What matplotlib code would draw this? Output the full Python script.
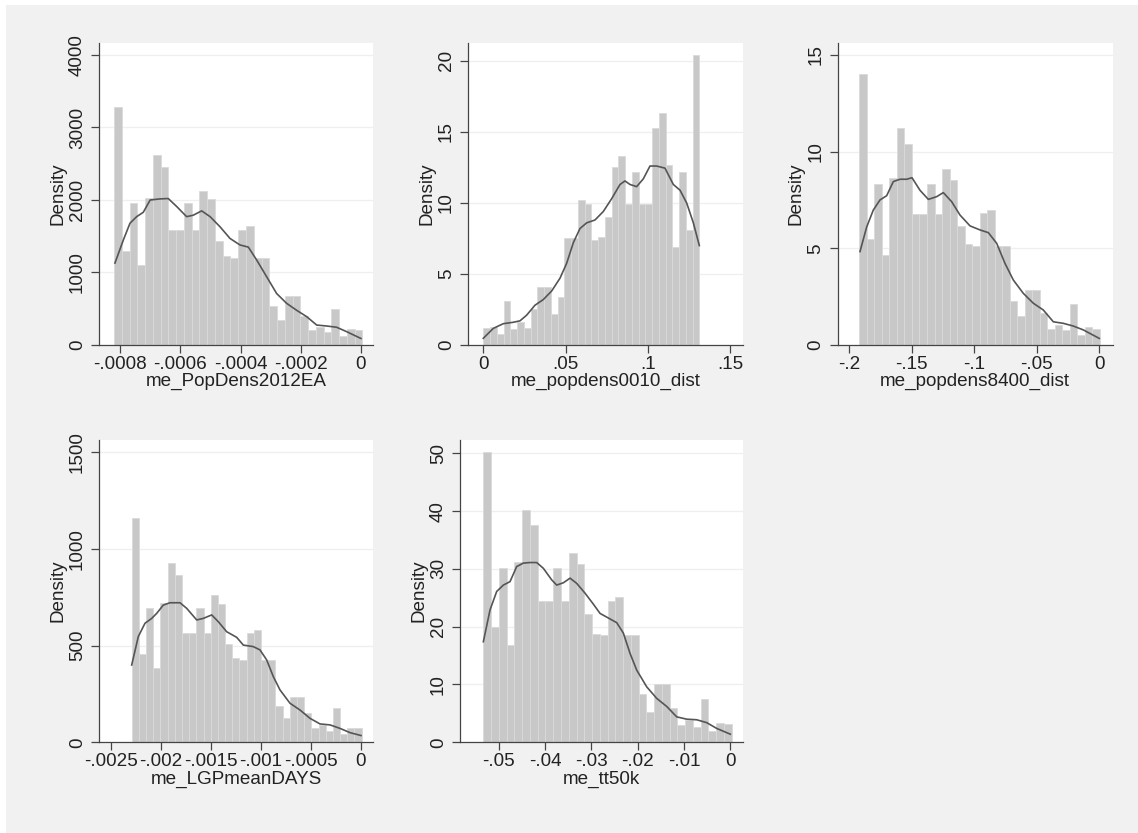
import numpy as np
import matplotlib.pyplot as plt
from matplotlib.patches import Rectangle
from matplotlib.ticker import FixedLocator, FixedFormatter

plt.rcParams['font.family'] = ['Liberation Sans', 'DejaVu Sans']

# ---------------- data ----------------
# Panel 1: me_PopDens2012EA
p1_name = "me_PopDens2012EA"
p1_bin_range = (-0.00082, 0.000005)
p1_density = [3280, 1300, 1960, 1100, 2030, 2620, 2450, 1590, 1590, 1960, 1590, 2130,
              2010, 1440, 1230, 1200, 1590, 1640, 1200, 1200, 540, 350, 670, 670,
              400, 200, 250, 180, 490, 120, 220, 200]
p1_kde_x = [-0.000817, -0.000789, -0.000767, -0.000745, -0.000723, -0.0007, -0.000667,
            -0.00064, -0.000612, -0.000579, -0.000557, -0.000529, -0.000501, -0.000468,
            -0.000435, -0.000402, -0.000374, -0.000346, -0.000313, -0.00028, -0.000247,
            -0.000214, -0.00018, -0.000147, -0.000114, -0.000081, -0.000048, 0.0]
p1_kde_y = [1130, 1450, 1680, 1770, 1830, 2000, 2015, 2020, 1910, 1770, 1790, 1850,
            1770, 1630, 1470, 1380, 1350, 1170, 940, 710, 575, 480, 390, 275, 262,
            245, 185, 90]
p1_xticks = [-0.0008, -0.0006, -0.0004, -0.0002, 0]
p1_xticklabels = ["-.0008", "-.0006", "-.0004", "-.0002", "0"]
p1_yticks = [0, 1000, 2000, 3000, 4000]
p1_yticklabels = ["0", "1000", "2000", "3000", "4000"]

# Panel 2: me_popdens0010_dist
p2_name = "me_popdens0010_dist"
p2_bin_range = (0.0, 0.1312)
p2_density = [1.2, 1.3, 0.8, 3.1, 1.1, 1.6, 1.2, 2.5, 4.1, 4.1, 2.2, 3.4, 7.5, 7.5, 10.2,
              9.9, 7.4, 7.6, 9.0, 12.5, 13.3, 9.9, 12.2, 9.9, 9.9, 15.3, 16.3, 12.7,
              6.9, 12.2, 8.1, 20.4]
p2_kde_x = [0.0, 0.00607, 0.01215, 0.01822, 0.02227, 0.02632, 0.03138, 0.03644, 0.0415,
            0.04656, 0.05061, 0.05466, 0.05870, 0.06275, 0.06781, 0.07287, 0.07794,
            0.083, 0.08603, 0.08907, 0.09312, 0.09717, 0.10121, 0.10526, 0.11032,
            0.11538, 0.11943, 0.12348, 0.12753, 0.13117]
p2_kde_y = [0.47, 1.17, 1.5, 1.6, 1.7, 2.1, 2.8, 3.2, 3.8, 4.7, 5.75, 7.2, 8.2, 8.6, 8.8,
            9.4, 10.3, 11.3, 11.55, 11.3, 11.15, 11.7, 12.6, 12.6, 12.45, 11.3, 10.9,
            10.0, 8.6, 7.0]
p2_xticks = [0, 0.05, 0.1, 0.15]
p2_xticklabels = ["0", ".05", ".1", ".15"]
p2_yticks = [0, 5, 10, 15, 20]
p2_yticklabels = ["0", "5", "10", "15", "20"]

# Panel 3: me_popdens8400_dist
p3_name = "me_popdens8400_dist"
p3_bin_range = (-0.192, 0.0005)
p3_density = [14.0, 5.5, 8.35, 4.65, 8.65, 11.2, 10.4, 6.75, 6.75, 8.35, 6.75, 9.1,
              8.55, 6.15, 5.2, 5.1, 6.8, 7.0, 5.1, 5.1, 2.3, 1.5, 2.85, 2.85, 1.65,
              0.85, 1.05, 0.75, 2.1, 0.5, 0.95, 0.85]
p3_kde_x = [-0.19147, -0.18613, -0.1808, -0.17547, -0.17013, -0.1648, -0.15947, -0.15413,
            -0.14987, -0.14347, -0.1368, -0.13013, -0.1248, -0.11813, -0.11147,
            -0.10347, -0.09547, -0.0888, -0.08213, -0.07547, -0.0688, -0.0608, -0.0528,
            -0.04480, -0.0368, -0.0288, -0.0208, -0.0128, 0.0]
p3_kde_y = [4.83, 6.1, 6.98, 7.5, 7.72, 8.45, 8.57, 8.57, 8.65, 8.0, 7.53, 7.67, 7.88,
            7.41, 6.72, 6.16, 5.95, 5.81, 5.26, 4.22, 3.36, 2.67, 2.16, 1.81, 1.2, 1.12,
            0.98, 0.78, 0.34]
p3_xticks = [-0.2, -0.15, -0.1, -0.05, 0]
p3_xticklabels = ["-.2", "-.15", "-.1", "-.05", "0"]
p3_yticks = [0, 5, 10, 15]
p3_yticklabels = ["0", "5", "10", "15"]

# Panel 4: me_LGPmeanDAYS
p4_name = "me_LGPmeanDAYS"
p4_bin_range = (-0.002293, 0.0000067)
p4_density = [1160, 455, 695, 385, 720, 930, 865, 565, 565, 695, 565, 760, 715, 510,
              435, 425, 565, 580, 425, 425, 190, 125, 235, 235, 150, 75, 90, 60, 175,
              45, 75, 75]
p4_kde_x = [-0.002293, -0.002227, -0.00216, -0.002093, -0.002043, -0.001977, -0.00191,
            -0.00181, -0.001743, -0.001643, -0.001577, -0.001493, -0.001427, -0.001343,
            -0.001243, -0.001177, -0.001077, -0.00101, -0.000943, -0.000877, -0.00081,
            -0.00071, -0.00061, -0.00051, -0.00041, -0.00031, -0.00021, -0.00011, 0.0]
p4_kde_y = [400, 547, 616, 641, 667, 710, 722, 722, 693, 633, 641, 659, 624, 572, 543,
            503, 495, 478, 426, 340, 271, 202, 167, 124, 95, 90, 72, 50, 35]
p4_xticks = [-0.0025, -0.002, -0.0015, -0.001, -0.0005, 0]
p4_xticklabels = ["-.0025", "-.002", "-.0015", "-.001", "-.0005", "0"]
p4_yticks = [0, 500, 1000, 1500]
p4_yticklabels = ["0", "500", "1000", "1500"]

# Panel 5: me_tt50k
p5_name = "me_tt50k"
p5_bin_range = (-0.0533, 0.0003)
p5_density = [50.3, 19.9, 30.1, 16.9, 31.2, 40.2, 37.6, 24.5, 24.5, 30.1, 24.5, 32.7,
              30.9, 22.2, 18.8, 18.5, 24.5, 25.2, 18.5, 18.5, 8.3, 5.3, 10.0, 10.0, 5.9,
              3.0, 3.8, 2.7, 7.5, 1.9, 3.4, 3.2]
p5_kde_x = [-0.05331, -0.05187, -0.05043, -0.04899, -0.04755, -0.04612, -0.04468,
            -0.04324, -0.0418, -0.04036, -0.03856, -0.03748, -0.03604, -0.0346,
            -0.03317, -0.03137, -0.02957, -0.02813, -0.02633, -0.02453, -0.0231,
            -0.02166, -0.02022, -0.01806, -0.0159, -0.01374, -0.01158, -0.00942,
            -0.00727, -0.00511, -0.00295, 0.0]
p5_kde_y = [17.4, 22.9, 26.1, 27.2, 27.8, 30.4, 31.0, 31.1, 31.1, 30.1, 28.1, 27.2, 27.6,
            28.4, 27.5, 25.8, 23.9, 22.3, 21.5, 20.7, 18.9, 15.4, 12.5, 9.6, 7.6, 6.2,
            4.4, 4.0, 3.9, 3.4, 2.4, 1.4]
p5_xticks = [-0.05, -0.04, -0.03, -0.02, -0.01, 0]
p5_xticklabels = ["-.05", "-.04", "-.03", "-.02", "-.01", "0"]
p5_yticks = [0, 10, 20, 30, 40, 50]
p5_yticklabels = ["0", "10", "20", "30", "40", "50"]

# ---------------- layout ----------------
W, H = 1138, 833
fig = plt.figure(figsize=(W / 100, H / 100), dpi=100)
fig.patch.set_facecolor('white')
BG = '#f1f1f1'
fig.patches.append(Rectangle((6 / W, 0), 1 - 6 / W, (H - 5) / H,
                             transform=fig.transFigure, facecolor=BG,
                             edgecolor='none', zorder=-10))

BAR = '#c8c8c8'
BAR_EDGE = '#dadada'
LINE = '#555555'
AX = '#444444'
FS = 13.6


def make_panel(box, xlim, ylim, name, bin_range, density, kx, ky,
               xt, xtl, yt, ytl):
    l, r, t, b = box
    ax = fig.add_axes([l / W, (H - b) / H, (r - l) / W, (b - t) / H])
    ax.set_facecolor('white')
    n = len(density)
    edges = np.linspace(bin_range[0], bin_range[1], n + 1)
    ax.bar(edges[:-1], density, width=np.diff(edges), align='edge',
           color=BAR, edgecolor=BAR_EDGE, linewidth=0.6, zorder=2)
    ax.plot(kx, ky, color=LINE, linewidth=1.2, zorder=3, solid_joinstyle='round')
    ax.set_xlim(*xlim)
    ax.set_ylim(*ylim)
    ax.xaxis.set_major_locator(FixedLocator(xt))
    ax.xaxis.set_major_formatter(FixedFormatter(xtl))
    ax.yaxis.set_major_locator(FixedLocator(yt))
    ax.yaxis.set_major_formatter(FixedFormatter(ytl))
    for y in yt[1:]:
        ax.axhline(y, color='#efefef', linewidth=0.9, zorder=1)
    for s in ['top', 'right']:
        ax.spines[s].set_visible(False)
    for s in ['left', 'bottom']:
        ax.spines[s].set_color(AX)
        ax.spines[s].set_linewidth(0.9)
    ax.tick_params(axis='both', direction='out', length=5.5, width=0.9,
                   color=AX, labelsize=FS, labelcolor='#222222')
    ax.tick_params(axis='x', pad=2.5)
    ax.tick_params(axis='y', pad=4)
    for lab in ax.get_yticklabels():
        lab.set_rotation(90)
        lab.set_va('center')
    ax.set_xlabel(name, fontsize=FS, color='#222222', labelpad=0)
    ax.set_ylabel('Density', fontsize=FS, color='#222222', labelpad=2)
    return ax


make_panel((99.3, 373.3, 43.3, 345), (-0.000869, 0.000041), (0, 4161), p1_name,
           p1_bin_range, p1_density, p1_kde_x, p1_kde_y,
           p1_xticks, p1_xticklabels, p1_yticks, p1_yticklabels)
make_panel((468.3, 742.7, 43.3, 345), (-0.0091, 0.1575), (0, 21.24), p2_name,
           p2_bin_range, p2_density, p2_kde_x, p2_kde_y,
           p2_xticks, p2_xticklabels, p2_yticks, p2_yticklabels)
make_panel((837.7, 1112.7, 43.3, 345), (-0.2093, 0.0107), (0, 15.6), p3_name,
           p3_bin_range, p3_density, p3_kde_x, p3_kde_y,
           p3_xticks, p3_xticklabels, p3_yticks, p3_yticklabels)
make_panel((99.3, 373.3, 440, 742.3), (-0.002617, 0.000123), (0, 1564), p4_name,
           p4_bin_range, p4_density, p4_kde_x, p4_kde_y,
           p4_xticks, p4_xticklabels, p4_yticks, p4_yticklabels)
make_panel((460, 742.7, 440, 742.3), (-0.05835, 0.00266), (0, 52.3), p5_name,
           p5_bin_range, p5_density, p5_kde_x, p5_kde_y,
           p5_xticks, p5_xticklabels, p5_yticks, p5_yticklabels)

fig.savefig('out.png', dpi=100, facecolor=fig.get_facecolor())
